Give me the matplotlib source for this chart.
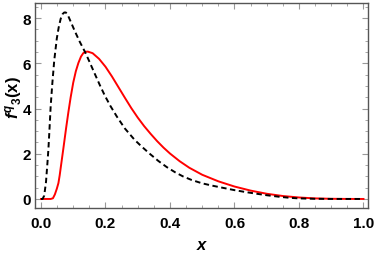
import matplotlib
matplotlib.use("Agg")
import matplotlib.pyplot as plt
from matplotlib.ticker import MultipleLocator

# black dashed curve
black_x = [0.0, 0.005, 0.010, 0.0155, 0.020, 0.023, 0.026, 0.030, 0.035, 0.041,
           0.049, 0.055, 0.061, 0.067, 0.072, 0.077, 0.082, 0.088, 0.095, 0.105,
           0.120, 0.137, 0.150, 0.167, 0.183, 0.198, 0.215, 0.235, 0.260, 0.290,
           0.312, 0.338, 0.364, 0.390, 0.416, 0.440, 0.467, 0.500, 0.534, 0.565,
           0.600, 0.637, 0.669, 0.700, 0.740, 0.772, 0.800, 0.850, 0.900, 1.0]
black_y = [0.0, 0.0, 0.15, 0.75, 1.6, 2.21, 3.0, 4.1, 5.09, 6.12,
           7.1, 7.6, 7.97, 8.18, 8.25, 8.25, 8.17, 7.98, 7.75, 7.42,
           6.96, 6.49, 6.08, 5.53, 5.02, 4.57, 4.12, 3.65, 3.12, 2.62,
           2.32, 1.99, 1.68, 1.41, 1.18, 1.0, 0.84, 0.69, 0.58, 0.49,
           0.39, 0.3, 0.23, 0.165, 0.095, 0.05, 0.025, 0.007, 0.001, 0.0]

# red solid curve
red_x = [0.0, 0.030, 0.037, 0.043, 0.049, 0.054, 0.058, 0.062, 0.070, 0.078,
         0.085, 0.092, 0.100, 0.108, 0.116, 0.124, 0.131, 0.138, 0.145, 0.160,
         0.180, 0.200, 0.220, 0.240, 0.260, 0.280, 0.300, 0.320, 0.340, 0.360,
         0.380, 0.400, 0.430, 0.460, 0.500, 0.550, 0.600, 0.650, 0.700, 0.750,
         0.800, 0.850, 0.900, 0.950, 1.0]
red_y = [0.0, 0.0, 0.03, 0.2, 0.45, 0.7, 1.05, 1.47, 2.3, 3.15,
         3.85, 4.5, 5.15, 5.65, 6.02, 6.3, 6.45, 6.51, 6.52, 6.45,
         6.2, 5.85, 5.42, 4.95, 4.48, 4.02, 3.6, 3.22, 2.88, 2.56,
         2.27, 2.01, 1.67, 1.38, 1.07, 0.78, 0.55, 0.37, 0.23, 0.13,
         0.065, 0.025, 0.007, 0.001, 0.0]

xticks = [0.0, 0.2, 0.4, 0.6, 0.8, 1.0]
yticks = [0, 2, 4, 6, 8]

plt.rcParams["font.family"] = "Liberation Sans"
plt.rcParams["mathtext.fontset"] = "custom"
plt.rcParams["mathtext.bf"] = "Liberation Sans:bold"
plt.rcParams["mathtext.it"] = "Liberation Sans:bold:italic"
plt.rcParams["mathtext.rm"] = "Liberation Sans:bold"

fig = plt.figure(figsize=(3.74, 2.55), dpi=100)
ax = fig.add_axes([35 / 374, 1 - 209 / 255, 333 / 374, 205 / 255])

ax.plot(red_x, red_y, color="#ff0000", lw=1.4)
ax.plot(black_x, black_y, color="black", lw=1.4, linestyle=(0, (2.8, 1.8)))

ax.set_xlim(-0.0186, 1.014)
ax.set_ylim(-0.4, 8.67)
ax.set_xticks(xticks)
ax.set_xticklabels(["%.1f" % t for t in xticks])
ax.set_yticks(yticks)
ax.xaxis.set_minor_locator(MultipleLocator(0.05))
ax.yaxis.set_minor_locator(MultipleLocator(0.5))

frame = "#555555"
for s in ax.spines.values():
    s.set_color(frame)
    s.set_linewidth(1.0)
ax.tick_params(which="both", direction="in", top=True, right=True, color="#999999")
ax.tick_params(which="major", length=4, width=0.8, labelsize=11)
ax.tick_params(axis="x", which="major", pad=6)
ax.tick_params(axis="y", which="major", pad=3)
ax.tick_params(which="minor", length=2, width=0.6)
for lab in ax.get_xticklabels() + ax.get_yticklabels():
    lab.set_fontweight("bold")

fig.text(201.5 / 374, 1 - 246 / 255, "x", fontsize=12, fontweight="bold",
         style="italic", ha="center", va="center")
fig.text(13 / 374, 1 - 98 / 255, r"$f^{q}{}_{\mathbf{3}}\mathbf{(x)}$",
         fontsize=12, rotation=90, ha="center", va="center")

fig.savefig("out.png", dpi=100)
